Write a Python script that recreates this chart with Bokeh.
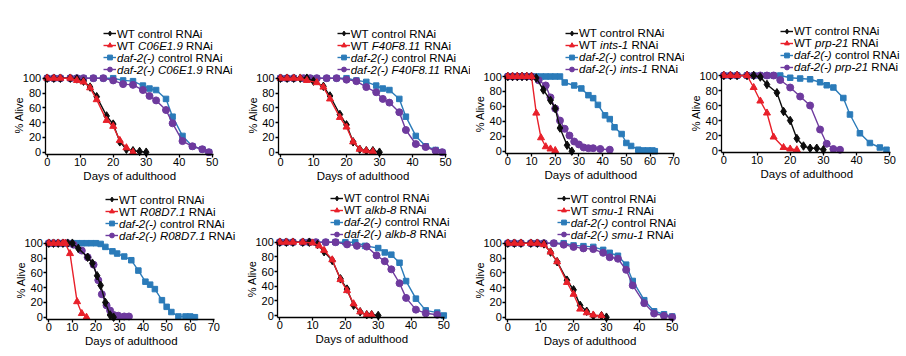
from math import pi
from bokeh.plotting import figure
from bokeh.models import Range1d, Label, Legend, LegendItem, FixedTicker
from bokeh.layouts import row, column
from bokeh.embed import file_html
from bokeh.resources import INLINE
from bokeh.core.properties import value

# ---------------- data (days of adulthood, % alive) ----------------
genes = ["C06E1.9", "F40F8.11", "ints-1", "prp-21", "R08D7.1", "alkb-8", "smu-1"]
x_max = [50, 50, 70, 50, 70, 50, 50]
x_ticks_50 = [0, 10, 20, 30, 40, 50]
x_ticks_70 = [0, 10, 20, 30, 40, 50, 60, 70]
y_ticks = [0, 20, 40, 60, 80, 100]

# Panel 1: C06E1.9
p1_wt_ctrl_days = [0, 2, 4, 7, 9, 11, 13, 15, 18, 20, 22, 24, 26, 28, 30]
p1_wt_ctrl_alive = [100, 100, 100, 100, 99, 96, 88, 75, 49, 38, 14, 4, 2, 1, 0]
p1_wt_rnai_days = [0, 2, 4, 7, 9, 11, 13, 15, 18, 20, 22, 24, 26]
p1_wt_rnai_alive = [100, 100, 100, 100, 97, 95, 87, 71, 43, 35, 16, 6, 0]
p1_daf_ctrl_days = [0, 2, 4, 7, 9, 11, 14, 17, 20, 23, 26, 29, 31, 33, 36, 38, 41, 44, 47, 49]
p1_daf_ctrl_alive = [100, 100, 100, 100, 100, 100, 100, 100, 100, 97, 96, 90, 86, 84, 72, 48, 22, 8, 4, 0]
p1_daf_rnai_days = [0, 2, 4, 7, 9, 11, 14, 17, 20, 23, 26, 29, 31, 33, 36, 38, 41, 44, 47, 49]
p1_daf_rnai_alive = [100, 100, 100, 100, 100, 100, 100, 100, 97, 92, 91, 84, 76, 70, 57, 39, 15, 8, 4, 0]

# Panel 2: F40F8.11
p2_wt_ctrl_days = [0, 2, 4, 6, 8, 10, 13, 15, 18, 20, 22, 24, 26, 28, 30]
p2_wt_ctrl_alive = [100, 100, 100, 100, 100, 96, 89, 76, 51, 37, 14, 4, 2, 2, 0]
p2_wt_rnai_days = [0, 2, 4, 6, 8, 11, 13, 15, 18, 20, 22, 24, 26, 28]
p2_wt_rnai_alive = [100, 100, 100, 100, 97, 94, 88, 72, 47, 34, 14, 4, 2, 1]
p2_daf_ctrl_days = [0, 2, 4, 7, 9, 11, 14, 17, 20, 23, 26, 29, 31, 33, 36, 38, 41, 44, 47, 49]
p2_daf_ctrl_alive = [100, 100, 100, 100, 100, 100, 100, 100, 100, 97, 95, 90, 86, 84, 72, 48, 22, 8, 3, 0]
p2_daf_rnai_days = [0, 2, 4, 7, 9, 11, 14, 17, 20, 23, 26, 29, 31, 33, 36, 38, 41, 44, 47, 49]
p2_daf_rnai_alive = [100, 100, 100, 100, 100, 100, 100, 100, 98, 96, 88, 81, 72, 67, 54, 30, 11, 7, 2, 0]

# Panel 3: ints-1
p3_wt_ctrl_days = [0, 2, 4, 6, 8, 10, 12, 15, 18, 20, 22, 25, 27]
p3_wt_ctrl_alive = [100, 100, 100, 100, 100, 100, 98, 82, 68, 57, 31, 8, 0]
p3_wt_rnai_days = [0, 2, 4, 6, 8, 10, 12, 14, 16, 18, 20]
p3_wt_rnai_alive = [100, 100, 100, 100, 100, 100, 51, 18, 6, 3, 1]
p3_daf_ctrl_days = [0, 2, 4, 6, 8, 10, 12, 14, 16, 18, 20, 22, 24, 28, 31, 34, 36, 38, 41, 43, 45, 48, 50, 52, 55, 57, 59, 61, 62]
p3_daf_ctrl_alive = [100, 100, 100, 100, 100, 100, 100, 100, 100, 100, 100, 100, 92, 88, 84, 75, 71, 62, 48, 43, 32, 23, 11, 7, 2, 1, 1, 1, 0]
p3_daf_rnai_days = [0, 2, 4, 6, 8, 10, 13, 16, 18, 20, 22, 24, 26, 28, 30, 32, 34, 36, 39, 43]
p3_daf_rnai_alive = [100, 100, 100, 100, 100, 100, 95, 88, 72, 57, 41, 30, 21, 13, 9, 5, 4, 4, 3, 2]

# Panel 4: prp-21
p4_wt_ctrl_days = [0, 2, 4, 7, 9, 11, 13, 16, 18, 20, 22, 24, 26, 28, 30]
p4_wt_ctrl_alive = [100, 100, 100, 100, 100, 98, 88, 77, 52, 40, 16, 6, 3, 3, 1]
p4_wt_rnai_days = [0, 2, 4, 7, 9, 11, 13, 15, 18, 20, 22]
p4_wt_rnai_alive = [100, 100, 100, 100, 84, 66, 50, 18, 4, 2, 1]
p4_daf_ctrl_days = [0, 2, 4, 7, 9, 11, 13, 15, 17, 20, 23, 26, 29, 31, 33, 36, 38, 41, 44, 47, 49]
p4_daf_ctrl_alive = [100, 100, 100, 100, 100, 100, 100, 100, 100, 97, 96, 95, 91, 87, 84, 70, 48, 23, 10, 4, 1]
p4_daf_rnai_days = [0, 2, 4, 7, 9, 11, 13, 15, 17, 20, 23, 26, 29, 31, 33, 35]
p4_daf_rnai_alive = [100, 100, 100, 100, 100, 100, 100, 100, 94, 84, 72, 60, 28, 9, 2, 1]

# Panel 5: R08D7.1
p5_wt_ctrl_days = [0, 2, 4, 6, 8, 10, 12.5, 16.5, 18.5, 20.5, 22, 24, 26, 27.5]
p5_wt_ctrl_alive = [100, 100, 100, 100, 100, 100, 93, 81, 73, 56, 43, 20, 3, 0]
p5_wt_rnai_days = [0, 2, 4, 6, 7, 9, 12, 14, 16]
p5_wt_rnai_alive = [100, 100, 100, 100, 100, 86, 21, 5, 0]
p5_daf_ctrl_days = [0, 2, 4, 6, 8, 10, 12, 14, 16, 18, 20, 22, 24, 27, 29, 32, 35, 38, 41, 43, 45, 48, 50, 52, 55, 58, 60, 62]
p5_daf_ctrl_alive = [100, 100, 100, 100, 100, 100, 100, 100, 100, 100, 100, 99, 95, 89, 86, 82, 77, 63, 48, 44, 38, 23, 14, 7, 1, 1, 1, 0]
p5_daf_rnai_days = [0, 2, 4, 6, 8, 10.5, 14, 16.5, 19, 21, 22.5, 24.5, 26, 27.5, 29.5, 32, 34]
p5_daf_rnai_alive = [100, 100, 100, 100, 100, 98, 90, 81, 71, 50, 31, 16, 9, 3, 2, 1, 1]

# Panel 6: alkb-8
p6_wt_ctrl_days = [0, 2, 4, 7, 9, 11.5, 13.5, 16, 18.5, 20.5, 22.5, 24.5, 26.5, 28, 30]
p6_wt_ctrl_alive = [100, 100, 100, 100, 100, 97, 87, 75, 50, 36, 14, 5, 1, 1, 0]
p6_wt_rnai_days = [0, 2, 4, 7, 10, 12, 13.5, 16, 18.5, 20.5, 22.5, 24.5, 26.5, 28]
p6_wt_rnai_alive = [100, 100, 100, 100, 99, 95, 89, 76, 49, 34, 16, 5, 1, 1]
p6_daf_ctrl_days = [0, 2, 4, 7, 9, 11, 14, 17, 20, 23, 26, 30, 32, 34, 36.5, 38.5, 41.5, 44.5, 48, 50]
p6_daf_ctrl_alive = [100, 100, 100, 100, 100, 100, 100, 100, 100, 100, 95, 92, 86, 83, 72, 47, 23, 7, 4, 0]
p6_daf_rnai_days = [0, 2, 4, 7, 9, 11, 14, 17, 20.5, 23.5, 26.5, 29.5, 32, 34, 36.5, 38.5, 41.5, 44.5, 48]
p6_daf_rnai_alive = [100, 100, 100, 100, 100, 100, 100, 100, 97, 95, 94, 82, 74, 63, 44, 24, 8, 3, 1]

# Panel 7: smu-1
p7_wt_ctrl_days = [0, 2, 4, 7, 9, 11, 13, 15, 18, 20, 22, 24, 26, 28.5, 30]
p7_wt_ctrl_alive = [100, 100, 100, 100, 100, 99, 88, 75, 50, 37, 16, 8, 2, 2, 0]
p7_wt_rnai_days = [0, 2, 4, 7, 9, 11, 13, 15, 18, 20, 22, 24, 26, 28.5]
p7_wt_rnai_alive = [100, 100, 100, 100, 100, 98, 88, 75, 47, 31, 11, 6, 3, 2]
p7_daf_ctrl_days = [0, 2, 4, 7, 9, 11, 14, 17, 20, 23, 26, 29, 31, 33.5, 36, 38, 41.5, 44.5, 47.5, 50]
p7_daf_ctrl_alive = [100, 100, 100, 100, 100, 100, 100, 100, 97, 96, 95, 91, 87, 83, 71, 49, 23, 8, 4, 1]
p7_daf_rnai_days = [0, 2, 4, 7, 9, 11, 14, 17, 20, 23, 26, 29, 31, 33.5, 36, 38, 41.5, 44.5, 47.5, 50]
p7_daf_rnai_alive = [100, 100, 100, 100, 100, 100, 100, 98, 95, 93, 92, 87, 81, 79, 64, 43, 19, 5, 2, 0]

series_by_panel = [
    [(p1_wt_ctrl_days, p1_wt_ctrl_alive), (p1_wt_rnai_days, p1_wt_rnai_alive), (p1_daf_ctrl_days, p1_daf_ctrl_alive), (p1_daf_rnai_days, p1_daf_rnai_alive)],
    [(p2_wt_ctrl_days, p2_wt_ctrl_alive), (p2_wt_rnai_days, p2_wt_rnai_alive), (p2_daf_ctrl_days, p2_daf_ctrl_alive), (p2_daf_rnai_days, p2_daf_rnai_alive)],
    [(p3_wt_ctrl_days, p3_wt_ctrl_alive), (p3_wt_rnai_days, p3_wt_rnai_alive), (p3_daf_ctrl_days, p3_daf_ctrl_alive), (p3_daf_rnai_days, p3_daf_rnai_alive)],
    [(p4_wt_ctrl_days, p4_wt_ctrl_alive), (p4_wt_rnai_days, p4_wt_rnai_alive), (p4_daf_ctrl_days, p4_daf_ctrl_alive), (p4_daf_rnai_days, p4_daf_rnai_alive)],
    [(p5_wt_ctrl_days, p5_wt_ctrl_alive), (p5_wt_rnai_days, p5_wt_rnai_alive), (p5_daf_ctrl_days, p5_daf_ctrl_alive), (p5_daf_rnai_days, p5_daf_rnai_alive)],
    [(p6_wt_ctrl_days, p6_wt_ctrl_alive), (p6_wt_rnai_days, p6_wt_rnai_alive), (p6_daf_ctrl_days, p6_daf_ctrl_alive), (p6_daf_rnai_days, p6_daf_rnai_alive)],
    [(p7_wt_ctrl_days, p7_wt_ctrl_alive), (p7_wt_rnai_days, p7_wt_rnai_alive), (p7_daf_ctrl_days, p7_daf_ctrl_alive), (p7_daf_rnai_days, p7_daf_rnai_alive)],
]

# ---------------- layout / style (page pixel geometry) ----------------
# L,R,T,B: figure box on the page; x0: x of day 0; pxd: px per day;
# y100 / y0: y of 100 % / 0 %; gx, gy: legend glyph left / first row centre
GEOM = [
    dict(L=0,   R=245, T=0,   B=185, x0=46.7,  pxd=3.30,   y100=77.7,  y0=151.7, gx=103,   gy=33.3),
    dict(L=245, R=470, T=0,   B=185, x0=280.0, pxd=3.30,   y100=77.7,  y0=151.7, gx=336.7, gy=33.3),
    dict(L=470, R=684, T=0,   B=185, x0=507.3, pxd=2.3714, y100=76.0,  y0=150.7, gx=565,   gy=32.7),
    dict(L=684, R=906, T=0,   B=185, x0=723.3, pxd=3.32,   y100=75.0,  y0=150.0, gx=780,   gy=30.5),
    dict(L=0,   R=243, T=185, B=356, x0=48.3,  pxd=2.357,  y100=242.7, y0=316.7, gx=105,   gy=199),
    dict(L=243, R=470, T=185, B=356, x0=279.3, pxd=3.28,   y100=241.7, y0=315.0, gx=330,   gy=197.7),
    dict(L=470, R=700, T=185, B=356, x0=507.3, pxd=3.288,  y100=242.7, y0=316.7, gx=556.7, gy=198.3),
]

FONT = "Liberation Sans"
TXT = "#000000"
COLORS = ["#0d0d0d", "#e8202a", "#2b7bb9", "#6e3a9e"]
MARKERS = ["diamond", "triangle", "square", "circle"]
MSIZE = [8.5, 7, 5.5, 7]
LEG_FS = 11.5
ROW_H = 12

# Arial / Liberation Sans advance widths (per 1000 em)
AW = {' ': 278, '(': 333, ')': 333, '-': 333, '.': 278, 'A': 667, 'C': 722, 'D': 722,
      'E': 667, 'F': 611, 'N': 722, 'R': 722, 'T': 611, 'W': 944, 'a': 556, 'b': 556,
      'c': 500, 'd': 556, 'e': 556, 'f': 278, 'h': 556, 'i': 222, 'k': 500, 'l': 222,
      'm': 833, 'n': 556, 'o': 556, 'p': 556, 'r': 333, 's': 500, 't': 278, 'u': 556,
      'v': 500, 'y': 500}


def tw(s, size):
    return sum(AW.get(ch, 556) for ch in s) / 1000.0 * size


def make_panel(idx):
    g = GEOM[idx]
    gene = genes[idx]
    xmax = x_max[idx]
    series = series_by_panel[idx]
    pxd = g["pxd"]
    pxp = (g["y0"] - g["y100"]) / 100.0
    L, R, T, B = g["L"], g["R"], g["T"], g["B"]
    # the plotting frame is the whole figure; axes are pinned at fixed data positions
    xs = (L - g["x0"]) / pxd
    xe = (R - g["x0"]) / pxd
    ys = (g["y0"] - B) / pxp
    ye = (g["y0"] - T) / pxp
    yaxis_at = -2.0 / pxd       # y-axis line just left of day 0
    xaxis_at = -2.3 / pxp       # x-axis line just below 0 %

    p = figure(width=R - L, height=B - T,
               x_range=Range1d(xs, xe), y_range=Range1d(ys, ye),
               min_border_left=0, min_border_right=0, min_border_top=0, min_border_bottom=0,
               toolbar_location=None, output_backend="svg")
    p.outline_line_color = None
    p.xgrid.visible = False
    p.ygrid.visible = False
    p.background_fill_color = "white"
    p.border_fill_color = "white"

    p.xaxis.ticker = FixedTicker(ticks=x_ticks_70 if xmax == 70 else x_ticks_50)
    p.yaxis.ticker = FixedTicker(ticks=y_ticks)
    p.xaxis.fixed_location = xaxis_at
    p.yaxis.fixed_location = yaxis_at
    p.xaxis.bounds = (yaxis_at, xmax + 0.3)
    p.yaxis.bounds = (xaxis_at, 100)
    for ax in (p.xaxis[0], p.yaxis[0]):
        ax.axis_line_color = TXT
        ax.axis_line_width = 1.3
        ax.major_tick_line_color = TXT
        ax.major_tick_line_width = 1.3
        ax.major_tick_in = 0
        ax.major_tick_out = 3
        ax.minor_tick_line_color = None
        ax.major_label_text_font = FONT
        ax.major_label_text_font_size = "11px"
        ax.major_label_text_color = TXT
    p.xaxis.major_label_standoff = 0
    p.yaxis.major_label_standoff = 1

    lines, dots = [None] * 4, [None] * 4
    for i in [2, 3, 0, 1]:
        d, a = series[i]
        lines[i] = p.line(d, a, line_color=COLORS[i], line_width=1.4)
        dots[i] = p.scatter(d, a, marker=MARKERS[i], size=MSIZE[i],
                            fill_color=COLORS[i], line_color=COLORS[i])

    # legend glyphs (texts are drawn as labels so that gene names can be italic)
    items = [LegendItem(label=value(""), renderers=[lines[i], dots[i]]) for i in range(4)]
    leg_top = g["gy"] - ROW_H / 2.0
    leg = Legend(items=items, location=(g["gx"] - L, B - (leg_top + 4 * ROW_H)),
                 orientation="vertical", glyph_width=13, glyph_height=ROW_H,
                 label_height=ROW_H, label_width=0, label_standoff=0, spacing=0,
                 padding=0, margin=0, border_line_color=None,
                 background_fill_alpha=0, label_text_font_size="8px")
    p.add_layout(leg)

    rows_txt = [
        [("WT control RNAi", "normal")],
        [("WT ", "normal"), (gene, "italic"), (" RNAi", "normal")],
        [("daf-2(-)", "italic"), (" control RNAi", "normal")],
        [("daf-2(-) " + gene, "italic"), (" RNAi", "normal")],
    ]
    for k, segs in enumerate(rows_txt):
        x = g["gx"] + 13.5
        ypage = g["gy"] + k * ROW_H
        for s, style in segs:
            lead = len(s) - len(s.lstrip(" "))
            x_txt = x + tw(" " * lead, LEG_FS)
            p.add_layout(Label(x=x_txt - L, y=B - ypage, x_units="screen", y_units="screen",
                               text=s.strip(" "), text_font=FONT, text_font_style=style,
                               text_font_size=f"{LEG_FS}px", text_color=TXT,
                               text_align="left", text_baseline="middle"))
            x += tw(s, LEG_FS)

    # axis titles
    p.add_layout(Label(x=(g["x0"] - 28) - L, y=B - (g["y100"] + g["y0"]) / 2.0,
                       x_units="screen", y_units="screen", text="% Alive", angle=pi / 2,
                       text_font=FONT, text_font_size="11px", text_color=TXT,
                       text_align="center", text_baseline="middle"))
    p.add_layout(Label(x=(g["x0"] + xmax * pxd / 2.0) - L, y=B - (g["y0"] + 23.5),
                       x_units="screen", y_units="screen", text="Days of adulthood",
                       text_font=FONT, text_font_size="11.5px", text_color=TXT,
                       text_align="center", text_baseline="middle"))
    return p


figs = [make_panel(i) for i in range(7)]
layout = column(row(*figs[:4]), row(*figs[4:]))

open("out.html", "w").write(file_html(layout, INLINE))
